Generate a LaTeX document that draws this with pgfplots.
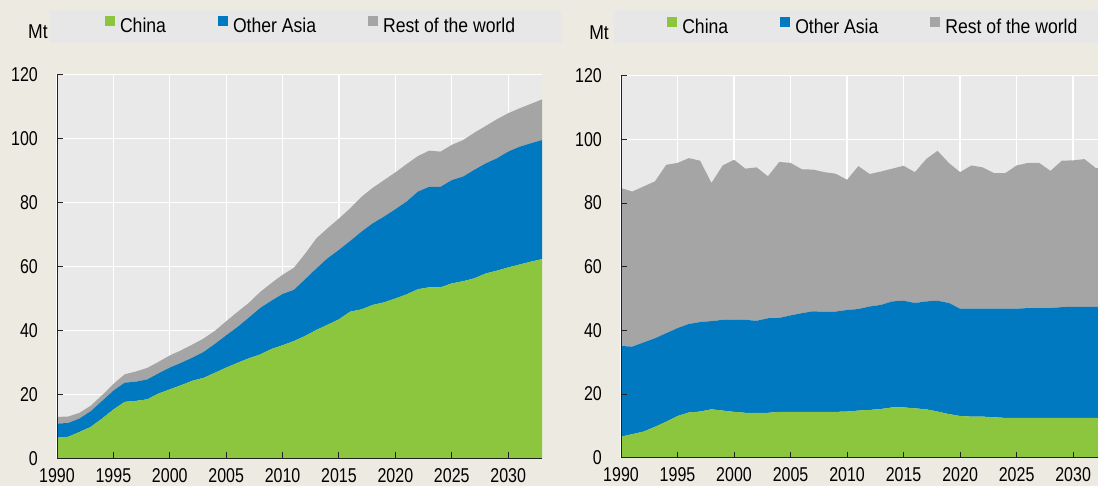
\documentclass[border=0pt]{standalone}
\usepackage{fontspec}
\setmainfont{Liberation Sans}[FakeStretch=0.88]
\newfontfamily\tickfont{Liberation Sans}[FakeStretch=0.80]
\usepackage{pgfplots}
\usepackage{pgfplotstable}
\pgfplotsset{compat=1.18}

\definecolor{pagebeige}{HTML}{EDEBE1}
\definecolor{plotgray}{HTML}{E9E9E9}
\definecolor{legendgray}{HTML}{E7E7E7}
\definecolor{chinagreen}{HTML}{8CC63F}
\definecolor{asiablue}{HTML}{0079C0}
\definecolor{restgray}{HTML}{A5A5A5}
\definecolor{axisdark}{HTML}{222222}
\pagecolor{pagebeige}

% Consumption, Mt: left = where the product is consumed, right = where it is produced
\pgfplotstableread{
year china asia rest
1990 6.5 4.4 2.1
1991 6.8 4.3 2.0
1992 8.3 4.2 1.8
1993 9.9 4.9 1.7
1994 12.5 5.5 1.8
1995 15.3 5.9 2.1
1996 17.7 6.0 2.6
1997 18.0 6.0 3.2
1998 18.5 6.2 3.6
1999 20.3 6.3 3.6
2000 21.6 6.8 3.8
2001 22.9 7.0 3.9
2002 24.3 7.2 4.1
2003 25.2 8.1 4.2
2004 26.8 9.0 4.1
2005 28.4 10.1 4.4
2006 29.9 11.2 4.7
2007 31.3 12.7 4.6
2008 32.5 14.5 5.0
2009 34.2 15.1 5.5
2010 35.4 16.0 6.0
2011 36.7 16.0 6.9
2012 38.3 17.7 8.0
2013 40.2 19.2 9.4
2014 41.8 20.8 9.4
2015 43.5 21.7 9.8
2016 45.9 22.1 10.2
2017 46.6 24.3 10.9
2018 48.0 25.5 11.1
2019 48.8 26.8 11.4
2020 50.0 27.9 11.5
2021 51.3 29.0 11.7
2022 52.9 30.5 11.1
2023 53.5 31.4 11.3
2024 53.5 31.4 11.0
2025 54.7 32.3 11.0
2026 55.4 32.7 11.4
2027 56.3 33.9 11.6
2028 57.8 34.4 11.7
2029 58.7 35.1 12.2
2030 59.7 36.2 12.0
2031 60.6 36.8 12.0
2032 61.5 37.0 12.3
2033 62.3 37.2 12.7
}\leftdata

\pgfplotstableread{
year china asia rest
1990 6.6 28.5 49.6
1991 7.4 27.5 48.7
1992 8.2 28.0 49.0
1993 9.7 27.8 49.3
1994 11.3 27.8 52.9
1995 13.1 27.6 51.9
1996 14.2 27.8 52.1
1997 14.5 28.1 50.7
1998 15.2 27.7 43.4
1999 14.8 28.5 48.5
2000 14.4 29.0 50.2
2001 14.1 29.2 47.5
2002 14.1 28.9 48.2
2003 14.1 29.7 44.6
2004 14.4 29.5 49.0
2005 14.4 30.3 47.9
2006 14.4 31.0 45.2
2007 14.4 31.6 44.5
2008 14.4 31.4 43.9
2009 14.4 31.5 43.3
2010 14.5 31.9 40.9
2011 14.8 31.9 44.9
2012 15.0 32.5 41.6
2013 15.3 32.7 41.9
2014 15.8 33.3 41.7
2015 15.8 33.5 42.4
2016 15.5 33.1 41.1
2017 15.2 33.9 44.7
2018 14.5 34.8 47.1
2019 13.7 34.9 44.0
2020 13.1 33.7 42.9
2021 12.9 33.9 45.0
2022 12.9 33.9 44.4
2023 12.7 34.1 42.6
2024 12.5 34.3 42.6
2025 12.5 34.3 45.0
2026 12.5 34.5 45.6
2027 12.5 34.5 45.6
2028 12.5 34.5 43.1
2029 12.5 34.8 46.0
2030 12.5 34.9 46.0
2031 12.5 34.9 46.4
2032 12.5 34.9 43.6
2033 12.5 34.9 43.6
}\rightdata

% grid below the filled areas, axis lines and ticks above them
\pgfplotsset{
  layers/grid under plots/.define layer set={
    axis background,axis grid,main,axis ticks,axis lines,axis tick labels,
    axis descriptions,axis foreground
  }{/pgfplots/layers/standard},
}

\pgfplotsset{
  panel/.style={
    scale only axis,
    set layers=grid under plots,
    stack plots=y,
    xmin=1990, ymin=0, ymax=120,
    xtick={1990,1995,...,2030},
    ytick={0,20,...,120},
    axis x line*=bottom, axis y line*=left,
    axis line style={draw=axisdark, line width=1pt, -},
    tick align=inside,
    major tick length=6pt,
    tick style={draw=axisdark, line width=1pt},
    grid=major,
    grid style={draw=white, line width=1.3pt},
    axis background/.style={fill=plotgray},
    tick label style={font=\tickfont\fontsize{20}{24}\selectfont},
    /pgf/number format/assume math mode=true,
    /pgf/number format/1000 sep={},
    yticklabel style={anchor=east, inner sep=0pt, xshift=-19pt},
    xticklabel style={anchor=north, inner sep=0pt, yshift=-9.5pt},
    legend columns=3,
    legend image code/.code={\fill[##1] (0pt,0.5pt) rectangle (10pt,10.5pt);},
    legend style={
      draw=none, fill=none, inner sep=0pt, outer sep=0pt,
      anchor=west,
      font=\fontsize{20}{24}\selectfont,
      nodes={inner sep=0pt},
      /tikz/every odd column/.append style={column sep=5pt},
      /tikz/every even column/.append style={column sep=52pt},
    },
  },
}

\begin{document}
\begin{tikzpicture}
% legend bands and unit labels
\fill[legendgray] (50pt,442.7pt) rectangle (562pt,476pt);
\fill[legendgray] (614pt,442.7pt) rectangle (1098pt,476pt);
\node[anchor=base east, inner sep=0pt, font=\fontsize{20}{24}\selectfont] at (48pt,447pt) {Mt};
\node[anchor=base east, inner sep=0pt, font=\fontsize{20}{24}\selectfont] at (609pt,446pt) {Mt};

\begin{axis}[panel,
  at={(57pt,27.5pt)}, anchor=south west,
  width=485pt, height=384pt, xmax=2033,
  legend style={at={(axis description cs:0.099,1.129)}},
]
\addplot[fill=chinagreen, draw=none] table[x=year, y=china] {\leftdata} \closedcycle;
\addplot[fill=asiablue, draw=none] table[x=year, y=asia] {\leftdata} \closedcycle;
\addplot[fill=restgray, draw=none] table[x=year, y=rest] {\leftdata} \closedcycle;
\legend{China, Other Asia, Rest of the world}
\end{axis}

\begin{axis}[panel,
  at={(621pt,28.3pt)}, anchor=south west,
  width=477pt, height=382pt, xmax=2032.2,
  legend style={at={(axis description cs:0.097,1.130)}},
]
\addplot[fill=chinagreen, draw=none] table[x=year, y=china] {\rightdata} \closedcycle;
\addplot[fill=asiablue, draw=none] table[x=year, y=asia] {\rightdata} \closedcycle;
\addplot[fill=restgray, draw=none] table[x=year, y=rest] {\rightdata} \closedcycle;
\legend{China, Other Asia, Rest of the world}
\end{axis}

% page = full figure frame
\pgfresetboundingbox
\useasboundingbox (0,0) rectangle (1098pt,486pt);
\end{tikzpicture}
\end{document}
